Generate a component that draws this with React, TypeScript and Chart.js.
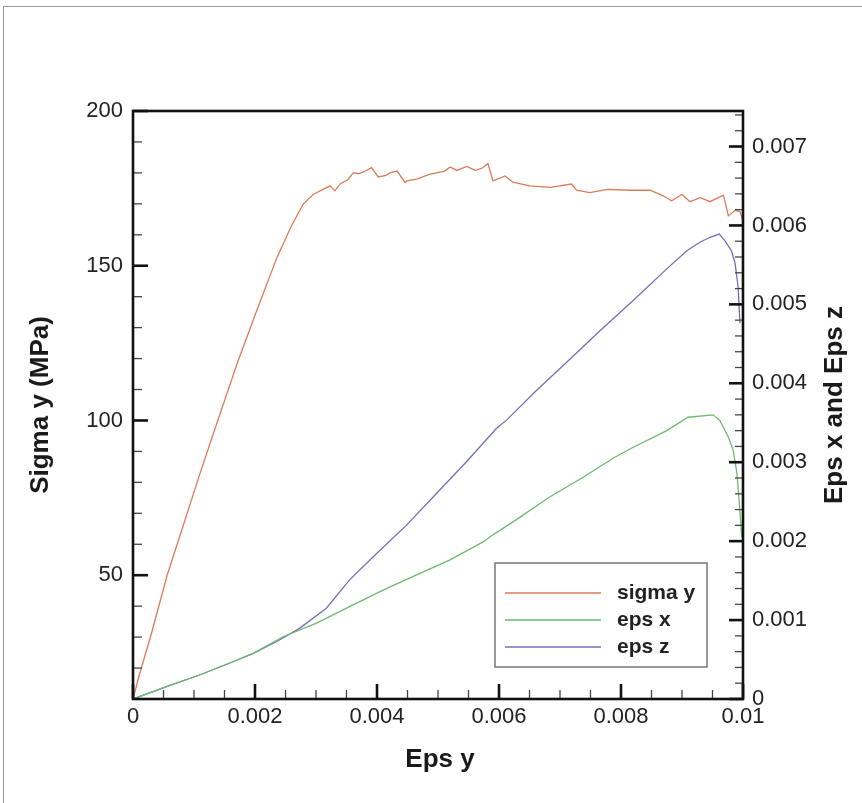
import React, { useEffect, useRef } from "react";
import { Chart, registerables } from "chart.js";

Chart.register(...registerables);

// ---- Data ----
const sigmaEpsY = [
  0, 0.0001, 0.0003, 0.00056, 0.00085, 0.0011, 0.00139, 0.0017, 0.002, 0.00236,
  0.0026, 0.00279, 0.00296, 0.00323, 0.00331, 0.0034, 0.00352, 0.00361, 0.0037, 0.00378,
  0.00391, 0.00402, 0.00415, 0.00421, 0.00433, 0.00446, 0.00449, 0.00465, 0.00487, 0.0051,
  0.0052, 0.00531, 0.00547, 0.00561, 0.00572, 0.00582, 0.0059, 0.0061, 0.00623, 0.0065,
  0.00684, 0.00719, 0.00727, 0.00749, 0.00777, 0.00815, 0.00848, 0.00869, 0.00883, 0.009,
  0.00913, 0.0093, 0.00946, 0.00968, 0.00976, 0.00987, 0.00995, 0.01,
];
const sigmaY = [
  10, 17.5, 31, 50, 67.7, 83, 100, 118, 134, 152.7,
  163, 169.9, 173.1, 175.8, 174.2, 176.5, 177.8, 180, 179.8, 180.3,
  181.7, 178.7, 179.2, 180, 180.6, 176.9, 177.4, 178, 179.6, 180.5,
  181.9, 180.8, 182.1, 180.8, 181.5, 183, 177.4, 179, 177, 175.8,
  175.3, 176.4, 174.4, 173.6, 174.7, 174.4, 174.4, 172.6, 171, 173.1,
  170.7, 172, 170.7, 172.8, 166.1, 167.9, 167.5, 164.5,
];

const epsXEpsY = [
  0, 0.00055, 0.00109, 0.00164, 0.00197, 0.00246, 0.003, 0.00355, 0.0041, 0.00464,
  0.00519, 0.00574, 0.0059, 0.00628, 0.00683, 0.00738, 0.00787, 0.0082, 0.00875, 0.0091,
  0.00951, 0.00962, 0.00976, 0.00984, 0.0099, 0.00994, 0.00998,
];
const epsX = [
  0, 0.000156, 0.000304, 0.000472, 0.000578, 0.000789, 0.000958, 0.00117, 0.00138, 0.00157,
  0.00176, 0.00199, 0.00208, 0.00227, 0.00256, 0.00281, 0.00305, 0.00319, 0.0034, 0.00357,
  0.0036, 0.00353, 0.00332, 0.00315, 0.00286, 0.00248, 0.00205,
];

const epsZEpsY = [
  0, 0.00055, 0.00109, 0.00164, 0.00197, 0.00235, 0.00273, 0.00317, 0.00355, 0.00399,
  0.00448, 0.00492, 0.00546, 0.00596, 0.00612, 0.0066, 0.0071, 0.00766, 0.0082, 0.00875,
  0.00908, 0.0093, 0.00946, 0.00961, 0.0097, 0.00981, 0.00987, 0.00992, 0.00995,
];
const epsZ = [
  0, 0.000156, 0.000304, 0.000472, 0.000578, 0.000725, 0.000895, 0.00115, 0.00151, 0.00184,
  0.0022, 0.00256, 0.003, 0.00343, 0.00353, 0.0039, 0.00426, 0.00467, 0.00505, 0.00545,
  0.00568, 0.00579, 0.00585, 0.00589, 0.00581, 0.00568, 0.00552, 0.00522, 0.00476,
];

const seriesNames = ["sigma y", "eps x", "eps z"];
const seriesColors = ["#DB7C58", "#6DBA6D", "#7070B8"];

const xLabelTicks = [0, 0.002, 0.004, 0.006, 0.008, 0.01];
const leftLabelTicks = [50, 100, 150, 200];
const rightLabelTicks = [0, 0.001, 0.002, 0.003, 0.004, 0.005, 0.006, 0.007];

const FONT = "'Liberation Sans', Arial, Helvetica, sans-serif";

function pairs(xs: number[], ys: number[]) {
  return xs.map((x, i) => ({ x, y: ys[i] }));
}

const near = (v: number, list: number[], tol: number) =>
  list.some((t) => Math.abs(t - v) < tol);

const framePlugin = {
  id: "frame",
  afterDatasetsDraw(chart: any) {
    const { ctx, chartArea: a, scales } = chart;
    ctx.save();
    const line = (x1: number, y1: number, x2: number, y2: number) => {
      ctx.beginPath();
      ctx.moveTo(x1, y1);
      ctx.lineTo(x2, y2);
      ctx.stroke();
    };
    // minor ticks
    ctx.strokeStyle = "#444";
    ctx.lineWidth = 1.3;
    for (let k = 1; k < 20; k++) {
      if (k % 4 === 0) continue;
      const px = scales.x.getPixelForValue(k * 0.0005);
      line(px, a.bottom, px, a.bottom - 9);
    }
    for (let v = 20; v < 200; v += 10) {
      if (v % 50 === 0) continue;
      const py = scales.y.getPixelForValue(v);
      line(a.left, py, a.left + 9, py);
    }
    for (let k = 1; k <= 37; k++) {
      if (k % 5 === 0) continue;
      const py = scales.y2.getPixelForValue(k * 0.0002);
      line(a.right, py, a.right - 8, py);
    }
    // major ticks
    ctx.strokeStyle = "#111";
    ctx.lineWidth = 2.6;
    xLabelTicks.forEach((v) => {
      const px = scales.x.getPixelForValue(v);
      line(px, a.bottom, px, a.bottom - 15);
    });
    leftLabelTicks.forEach((v) => {
      const py = scales.y.getPixelForValue(v);
      line(a.left, py, a.left + 15, py);
    });
    rightLabelTicks.forEach((v) => {
      const py = scales.y2.getPixelForValue(v);
      line(a.right, py, a.right - 14, py);
    });
    // frame
    ctx.lineWidth = 2.6;
    ctx.strokeStyle = "#111";
    ctx.strokeRect(a.left, a.top, a.right - a.left, a.bottom - a.top);

    // legend
    const bx = a.right - 248;
    const by = a.bottom - 136;
    const bw = 212;
    const bh = 104;
    ctx.fillStyle = "#fff";
    ctx.fillRect(bx, by, bw, bh);
    ctx.strokeStyle = "#777";
    ctx.lineWidth = 1.5;
    ctx.strokeRect(bx, by, bw, bh);
    chart.data.datasets.forEach((ds: any, i: number) => {
      const ry = by + 30 + i * 27;
      ctx.strokeStyle = ds.borderColor;
      ctx.lineWidth = 1.6;
      line(bx + 10, ry, bx + 106, ry);
      ctx.fillStyle = "#222";
      ctx.font = `bold 21px ${FONT}`;
      ctx.textAlign = "left";
      ctx.textBaseline = "middle";
      ctx.fillText(ds.label, bx + 122, ry);
    });

    // axis titles
    ctx.fillStyle = "#1a1a1a";
    ctx.font = `bold 26px ${FONT}`;
    ctx.textAlign = "center";
    ctx.textBaseline = "middle";
    const midY = (a.top + a.bottom) / 2;
    ctx.fillText("Eps y", (a.left + a.right) / 2 + 2, 760);
    ctx.save();
    ctx.translate(41, midY);
    ctx.rotate(-Math.PI / 2);
    ctx.fillText("Sigma y (MPa)", 0, 0);
    ctx.restore();
    ctx.save();
    ctx.translate(835, midY);
    ctx.rotate(-Math.PI / 2);
    ctx.fillText("Eps x and Eps z", 0, 0);
    ctx.restore();
    ctx.restore();
  },
};

export default function App() {
  const canvasRef = useRef<HTMLCanvasElement | null>(null);

  useEffect(() => {
    const canvas = canvasRef.current;
    if (!canvas) return;
    const tickFont = { family: FONT, size: 22 };
    const chart = new Chart(canvas, {
      type: "line",
      data: {
        datasets: [
          {
            label: seriesNames[0],
            data: pairs(sigmaEpsY, sigmaY),
            borderColor: seriesColors[0],
            yAxisID: "y",
          },
          {
            label: seriesNames[1],
            data: pairs(epsXEpsY, epsX),
            borderColor: seriesColors[1],
            yAxisID: "y2",
          },
          {
            label: seriesNames[2],
            data: pairs(epsZEpsY, epsZ),
            borderColor: seriesColors[2],
            yAxisID: "y2",
          },
        ] as any,
      },
      options: {
        animation: false,
        responsive: false,
        parsing: false as any,
        elements: {
          line: { borderWidth: 1.3, tension: 0 },
          point: { radius: 0 },
        },
        layout: { padding: { top: 111, left: 0, right: 0, bottom: 0 } },
        plugins: {
          legend: { display: false },
          tooltip: { enabled: false },
        },
        scales: {
          x: {
            type: "linear",
            position: "bottom",
            min: 0,
            max: 0.01,
            grid: { display: false, drawTicks: false },
            border: { display: false },
            ticks: {
              stepSize: 0.002,
              autoSkip: false,
              maxRotation: 0,
              padding: 5,
              color: "#222",
              font: tickFont,
              callback: (v: any) => {
                const n = Math.round(Number(v) * 1000);
                return near(Number(v), xLabelTicks, 1e-7) ? String(n / 1000) : "";
              },
            },
            afterFit: (s: any) => {
              s.height = 104;
            },
          },
          y: {
            type: "linear",
            position: "left",
            min: 10,
            max: 200,
            grid: { display: false, drawTicks: false },
            border: { display: false },
            ticks: {
              stepSize: 50,
              autoSkip: false,
              padding: 10,
              color: "#222",
              font: tickFont,
              callback: (v: any) =>
                near(Number(v), leftLabelTicks, 1e-6) ? String(Math.round(Number(v))) : "",
            },
            afterFit: (s: any) => {
              s.width = 133;
            },
          },
          y2: {
            type: "linear",
            position: "right",
            min: 0,
            max: 0.00745,
            grid: { display: false, drawTicks: false },
            border: { display: false },
            ticks: {
              stepSize: 0.001,
              autoSkip: false,
              padding: 9,
              color: "#222",
              font: tickFont,
              callback: (v: any) => {
                const n = Math.round(Number(v) * 1000);
                return near(Number(v), rightLabelTicks, 1e-7) ? String(n / 1000) : "";
              },
            },
            afterFit: (s: any) => {
              s.width = 119;
            },
          },
        },
      } as any,
      plugins: [framePlugin],
    });
    return () => chart.destroy();
  }, []);

  return (
    <div
      style={{
        position: "absolute",
        left: 0,
        top: 0,
        width: 862,
        height: 803,
        background: "#fff",
        overflow: "hidden",
      }}
    >
      <div
        style={{
          position: "absolute",
          left: 3,
          top: 6,
          width: 859,
          height: 1,
          background: "#999",
        }}
      />
      <div
        style={{
          position: "absolute",
          left: 3,
          top: 6,
          width: 1,
          height: 797,
          background: "#999",
        }}
      />
      <canvas
        ref={canvasRef}
        width={862}
        height={803}
        style={{ position: "absolute", left: 0, top: 0, width: 862, height: 803 }}
      />
    </div>
  );
}
